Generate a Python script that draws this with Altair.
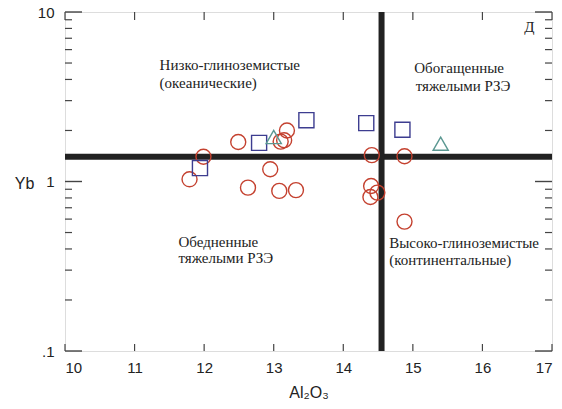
import altair as alt
import pandas as pd

# Sample groups: Al2O3 (wt.%) vs Yb (ppm)
circle_al = [12.49, 11.99, 11.79, 12.63, 12.95, 13.08, 13.32, 13.19, 13.10, 13.15,
             14.41, 14.88, 14.40, 14.39, 14.49, 14.88]
circle_yb = [1.71, 1.40, 1.03, 0.92, 1.18, 0.88, 0.89, 2.00, 1.72, 1.75,
             1.43, 1.41, 0.94, 0.81, 0.86, 0.58]
square_al = [11.94, 12.79, 13.47, 14.33, 14.85]
square_yb = [1.20, 1.69, 2.30, 2.21, 2.02]
triangle_al = [13.00, 15.40]
triangle_yb = [1.83, 1.67]

# Field boundaries
yb_boundary = 1.4
al_boundary = 14.55

# Axis ticks
x_ticks = [10, 11, 12, 13, 14, 15, 16, 17]
y_major = [0.1, 1, 10]
y_minor = [0.2, 0.3, 0.4, 0.5, 0.6, 0.7, 0.8, 0.9, 2, 3, 4, 5, 6, 7, 8, 9]

# Field names
label_text = ["Низко-глиноземистые", "(океанические)",
              "Обогащенные", "тяжелыми РЗЭ",
              "Обедненные", "тяжелыми РЗЭ",
              "Высоко-глиноземистые", "(континентальные)",
              "Д"]
label_al = [11.36, 11.36, 15.02, 15.04, 11.63, 11.63, 14.66, 14.66, 16.60]
label_yb = [4.84, 3.79, 4.65, 3.64, 0.439, 0.353, 0.433, 0.344, 8.11]

W, H = 487, 339
AXIS_COLOR = "#444444"
TEXT_COLOR = "#222222"
SERIF = "Liberation Serif"

pts = pd.DataFrame({
    "Al2O3": circle_al + square_al + triangle_al,
    "Yb": circle_yb + square_yb + triangle_yb,
    "group": ["circle"] * len(circle_al) + ["square"] * len(square_al)
             + ["triangle"] * len(triangle_al),
})

x_scale = alt.Scale(domain=[10, 17], nice=False, zero=False)
y_scale = alt.Scale(type="log", domain=[0.1, 10], nice=False)

x_axis = alt.Axis(values=x_ticks, ticks=False, grid=False, domain=False,
                  labelFontSize=15, labelFont="Liberation Sans", labelColor=TEXT_COLOR,
                  labelPadding=9, title="Al₂O₃", titleFont="Liberation Sans",
                  titleFontSize=16, titleFontWeight="normal", titleColor=TEXT_COLOR,
                  titlePadding=9)
y_axis = alt.Axis(values=y_major, ticks=False, grid=False, domain=False,
                  labelExpr="datum.value < 0.5 ? '.1' : (datum.value > 5 ? '10' : '1')",
                  labelFontSize=15, labelFont="Liberation Sans", labelColor=TEXT_COLOR,
                  labelPadding=11, title="Yb", titleAngle=0, titleFont="Liberation Sans",
                  titleFontSize=16, titleFontWeight="normal", titleColor=TEXT_COLOR,
                  titleX=-41, titleY=171, titleAlign="center", titleBaseline="middle")


def xq(field="v:Q"):
    return alt.X(field, scale=x_scale, axis=x_axis)


def yq(field="v:Q"):
    return alt.Y(field, scale=y_scale, axis=y_axis)


points = alt.Chart(pts).mark_point(filled=False, strokeWidth=1.4, opacity=1).encode(
    x=xq("Al2O3:Q"),
    y=yq("Yb:Q"),
    shape=alt.Shape("group:N", legend=None,
                    scale=alt.Scale(domain=["circle", "square", "triangle"],
                                    range=["circle", "square", "triangle-up"])),
    color=alt.Color("group:N", legend=None,
                    scale=alt.Scale(domain=["circle", "square", "triangle"],
                                    range=["#c4412f", "#3d3d90", "#5b9892"])),
    size=alt.Size("group:N", legend=None,
                  scale=alt.Scale(domain=["circle", "square", "triangle"],
                                  range=[225, 230, 320])),
)

# Thick field boundaries
h_line = alt.Chart(pd.DataFrame({"v": [yb_boundary]})).mark_rule(
    color="#222222", strokeWidth=6).encode(y=yq(), x=alt.value(0), x2=alt.value(W))
v_line = alt.Chart(pd.DataFrame({"v": [al_boundary]})).mark_rule(
    color="#222222", strokeWidth=6).encode(x=xq(), y=alt.value(0), y2=alt.value(H))

# Inward-pointing ticks on all four sides
xt = pd.DataFrame({"v": x_ticks})
x_bottom = alt.Chart(xt).mark_rule(color=AXIS_COLOR, strokeWidth=1.2).encode(
    x=xq(), y=alt.value(H), y2=alt.value(H - 7))
x_top = alt.Chart(xt).mark_rule(color=AXIS_COLOR, strokeWidth=1.2).encode(
    x=xq(), y=alt.value(0), y2=alt.value(8))

ymin = pd.DataFrame({"v": y_minor})
ymaj = pd.DataFrame({"v": y_major})
y_left_min = alt.Chart(ymin).mark_rule(color=AXIS_COLOR, strokeWidth=1.2).encode(
    y=yq(), x=alt.value(0), x2=alt.value(7))
y_right_min = alt.Chart(ymin).mark_rule(color=AXIS_COLOR, strokeWidth=1.2).encode(
    y=yq(), x=alt.value(W), x2=alt.value(W - 7))
y_left_maj = alt.Chart(ymaj).mark_rule(color=AXIS_COLOR, strokeWidth=1.4).encode(
    y=yq(), x=alt.value(0), x2=alt.value(17))
y_right_maj = alt.Chart(ymaj).mark_rule(color=AXIS_COLOR, strokeWidth=1.4).encode(
    y=yq(), x=alt.value(W), x2=alt.value(W - 17))

labels = alt.Chart(pd.DataFrame({"t": label_text, "a": label_al, "b": label_yb})).mark_text(
    align="left", baseline="middle", font=SERIF, fontSize=15,
    color=TEXT_COLOR).encode(
    x=xq("a:Q"),
    y=yq("b:Q"),
    text="t:N")

chart = alt.layer(
    x_bottom, x_top, y_left_min, y_right_min, y_left_maj, y_right_maj,
    h_line, v_line, labels, points,
).properties(
    width=W, height=H,
    padding={"left": 65, "top": 12, "right": 10, "bottom": 58},
    autosize=alt.AutoSizeParams(type="none"),
).configure_view(stroke=AXIS_COLOR, strokeWidth=1.2).configure(background="white")

chart.save("out.html", embed_options={"renderer": "svg", "actions": False})
